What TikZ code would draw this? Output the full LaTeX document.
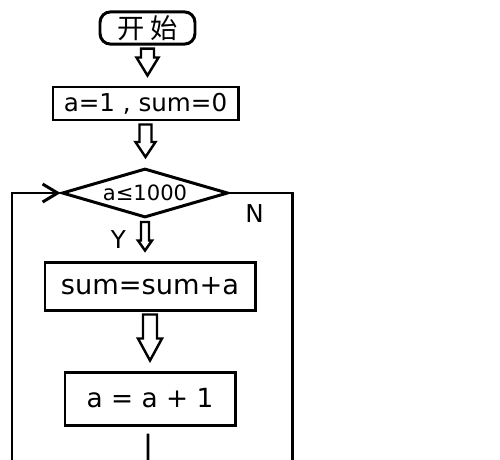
\documentclass[tikz,border=0pt]{standalone}
\usepackage{fontspec}
\setmainfont{DejaVu Sans}
\newfontfamily\cjk{Noto Sans CJK SC}
\usetikzlibrary{positioning, arrows.meta, calc, shapes.geometric}

% hollow block arrow: from, to, shaft half width, head half width, head length
\newcommand{\blockarrow}[5]{%
  \draw[hollow] let \p1=(#1.south), \p2=(#2.north) in
    (\x1-#3,\y1-0.06cm) -- (\x1-#3,\y2+0.2cm+#5) -- (\x1-#4,\y2+0.2cm+#5)
    -- (\x1,\y2+0.2cm) -- (\x1+#4,\y2+0.2cm+#5) -- (\x1+#3,\y2+0.2cm+#5)
    -- (\x1+#3,\y1-0.06cm) -- cycle;}

\begin{document}
\begin{tikzpicture}[line width=1.7pt,
  box/.style={draw, rectangle, inner sep=2pt},
  terminal/.style={box, rounded corners=6pt},
  decision/.style={draw, diamond, aspect=3.4, inner sep=0pt},
  hollow/.style={line width=1.4pt, line join=miter},
  lbl/.style={font=\fontsize{14}{16}\selectfont, inner sep=0pt}]
  \fill[white] (0,0) rectangle (10,-9.18);
  \useasboundingbox (0,0) rectangle (10,-9.18);

  \node[terminal, minimum width=1.9cm, minimum height=0.6cm,
        font=\cjk\fontsize{15.5}{17}\selectfont] (start) at (2.95,-0.56) {开\hspace{0.2em}始};
  \node[box, minimum width=3.7cm, minimum height=0.66cm,
        font=\fontsize{14}{16}\selectfont] (init) at (2.91,-2.07) {a=1 , sum=0};
  \node[decision, minimum width=3.32cm, minimum height=0.98cm,
        font=\fontsize{12}{14}\selectfont] (cond) at (2.9,-3.86) {a≤1000};
  \node[box, minimum width=4.2cm, minimum height=0.96cm,
        font=\fontsize{15.5}{18}\selectfont] (body) at (3.0,-5.72) {sum=sum+a};
  \node[box, minimum width=3.4cm, minimum height=1.06cm,
        font=\fontsize{15}{18}\selectfont] (incr) at (3.0,-7.97) {a = a + 1};

  \node[lbl, below left=0.2cm and 0.35cm of cond.south] (yes) {Y};
  \node[lbl, below right=0.2cm and 0.29cm of cond.east] (no) {N};

  \coordinate (loopfoot) at (0.24,-9.3);
  \coordinate (exitfoot) at (5.84,-9.3);
  \coordinate (incrfoot) at (2.96,-9.3);

  \blockarrow{start}{init}{0.13cm}{0.22cm}{0.36cm}
  \blockarrow{init}{cond}{0.12cm}{0.2cm}{0.3cm}
  \blockarrow{cond}{body}{0.08cm}{0.14cm}{0.2cm}
  \blockarrow{body}{incr}{0.14cm}{0.24cm}{0.44cm}

  \draw[-{Straight Barb[length=0.3cm,width=0.36cm]}] (loopfoot) |- (cond.west);
  \draw (cond.east) -| (exitfoot);
  \draw ($(incr.south)+(-0.04,-0.14)$) -- (incrfoot);
\end{tikzpicture}
\end{document}
